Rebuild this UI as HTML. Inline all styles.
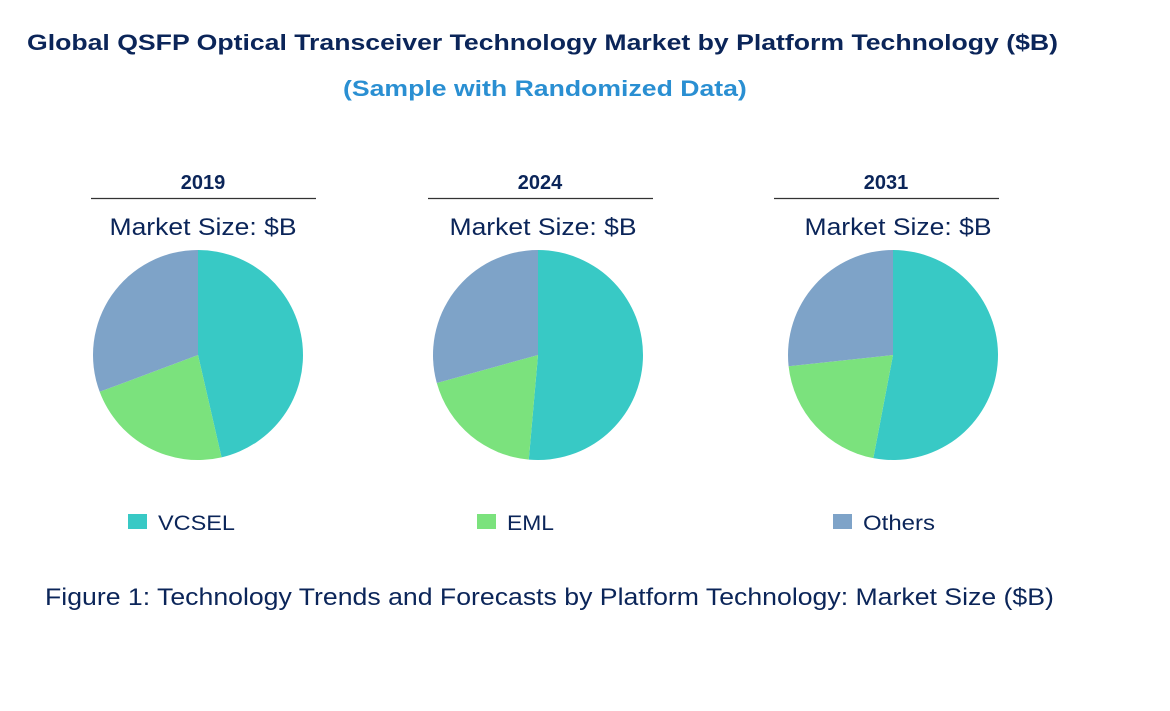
<!DOCTYPE html>
<html><head><meta charset="utf-8"><style>
body{margin:0;width:1170px;height:711px;background:#fff;font-family:"Liberation Sans",Arial,sans-serif;position:relative;overflow:hidden}
.t{position:absolute;white-space:nowrap;transform-origin:0 0}
</style></head><body>
<div class="t" style="left:27px;top:30px;font-size:22px;font-weight:bold;color:#0b2559;transform:scaleX(1.21)">Global QSFP Optical Transceiver Technology Market by Platform Technology ($B)</div>
<div class="t" style="left:343px;top:76px;font-size:22px;font-weight:bold;color:#2a8fd2;transform:scaleX(1.21)">(Sample with Randomized Data)</div>
<svg id="svg" width="1170" height="711" style="position:absolute;left:0;top:0"></svg>
<div class="t" style="left:45px;top:584px;font-size:24px;color:#0b2559;transform:scaleX(1.11)">Figure 1: Technology Trends and Forecasts by Platform Technology: Market Size ($B)</div>
<script>
const years=["2019","2024","2031"];
const categories=["VCSEL","EML","Others"];
const vcsel=[46.4,51.4,53.0];
const eml=[22.9,19.3,20.3];
const others=[30.7,29.3,26.7];
const colors=["#38c9c5","#7be27d","#7ea3c8"];
const centers=[198,538,893];
const headerX=[203,540,886];
const cy=355,R=105;
const svg=document.getElementById('svg');
const NS="http://www.w3.org/2000/svg";
function mk(t,a){const e=document.createElementNS(NS,t);for(const k in a)e.setAttribute(k,a[k]);svg.appendChild(e);return e;}
years.forEach((y,i)=>{
  const cx=centers[i],hx=headerX[i];
  const tx=mk('text',{x:hx,y:189,'text-anchor':'middle','font-size':20,'font-weight':'bold',fill:'#0b2559'});
  tx.textContent=y;
  
  
  const ln=mk('line',{x1:hx-112,x2:hx+113,y1:198.5,y2:198.5,stroke:'#333','stroke-width':1.3});
  
  
  const ms=mk('text',{x:cx+5,y:235,'text-anchor':'middle','font-size':24,fill:'#0b2559',textLength:187,lengthAdjust:'spacingAndGlyphs'});
  ms.textContent="Market Size: $B";
  
  
  const vals=[vcsel[i],eml[i],others[i]];
  const tot=vals.reduce((a,b)=>a+b,0);
  let a0=0;
  vals.forEach((v,j)=>{
    const a1=a0+v/tot*2*Math.PI;
    const x0=cx+R*Math.sin(a0),y0=cy-R*Math.cos(a0),x1=cx+R*Math.sin(a1),y1=cy-R*Math.cos(a1);
    const p=mk('path',{d:`M${cx},${cy}L${x0},${y0}A${R},${R} 0 ${a1-a0>Math.PI?1:0} 1 ${x1},${y1}Z`,fill:colors[j]});
    
    
    a0=a1;
  });
});
const legX=[128,477,833];
const legW=[77,47,72];
categories.forEach((c,j)=>{
  const r=mk('rect',{x:legX[j],y:514,width:19,height:15,fill:colors[j]});
  
  
  const t=mk('text',{x:legX[j]+30,y:530,'font-size':21,fill:'#0b2559',textLength:legW[j],lengthAdjust:'spacingAndGlyphs'});
  t.textContent=c;
  
  
});
</script>
</body></html>
